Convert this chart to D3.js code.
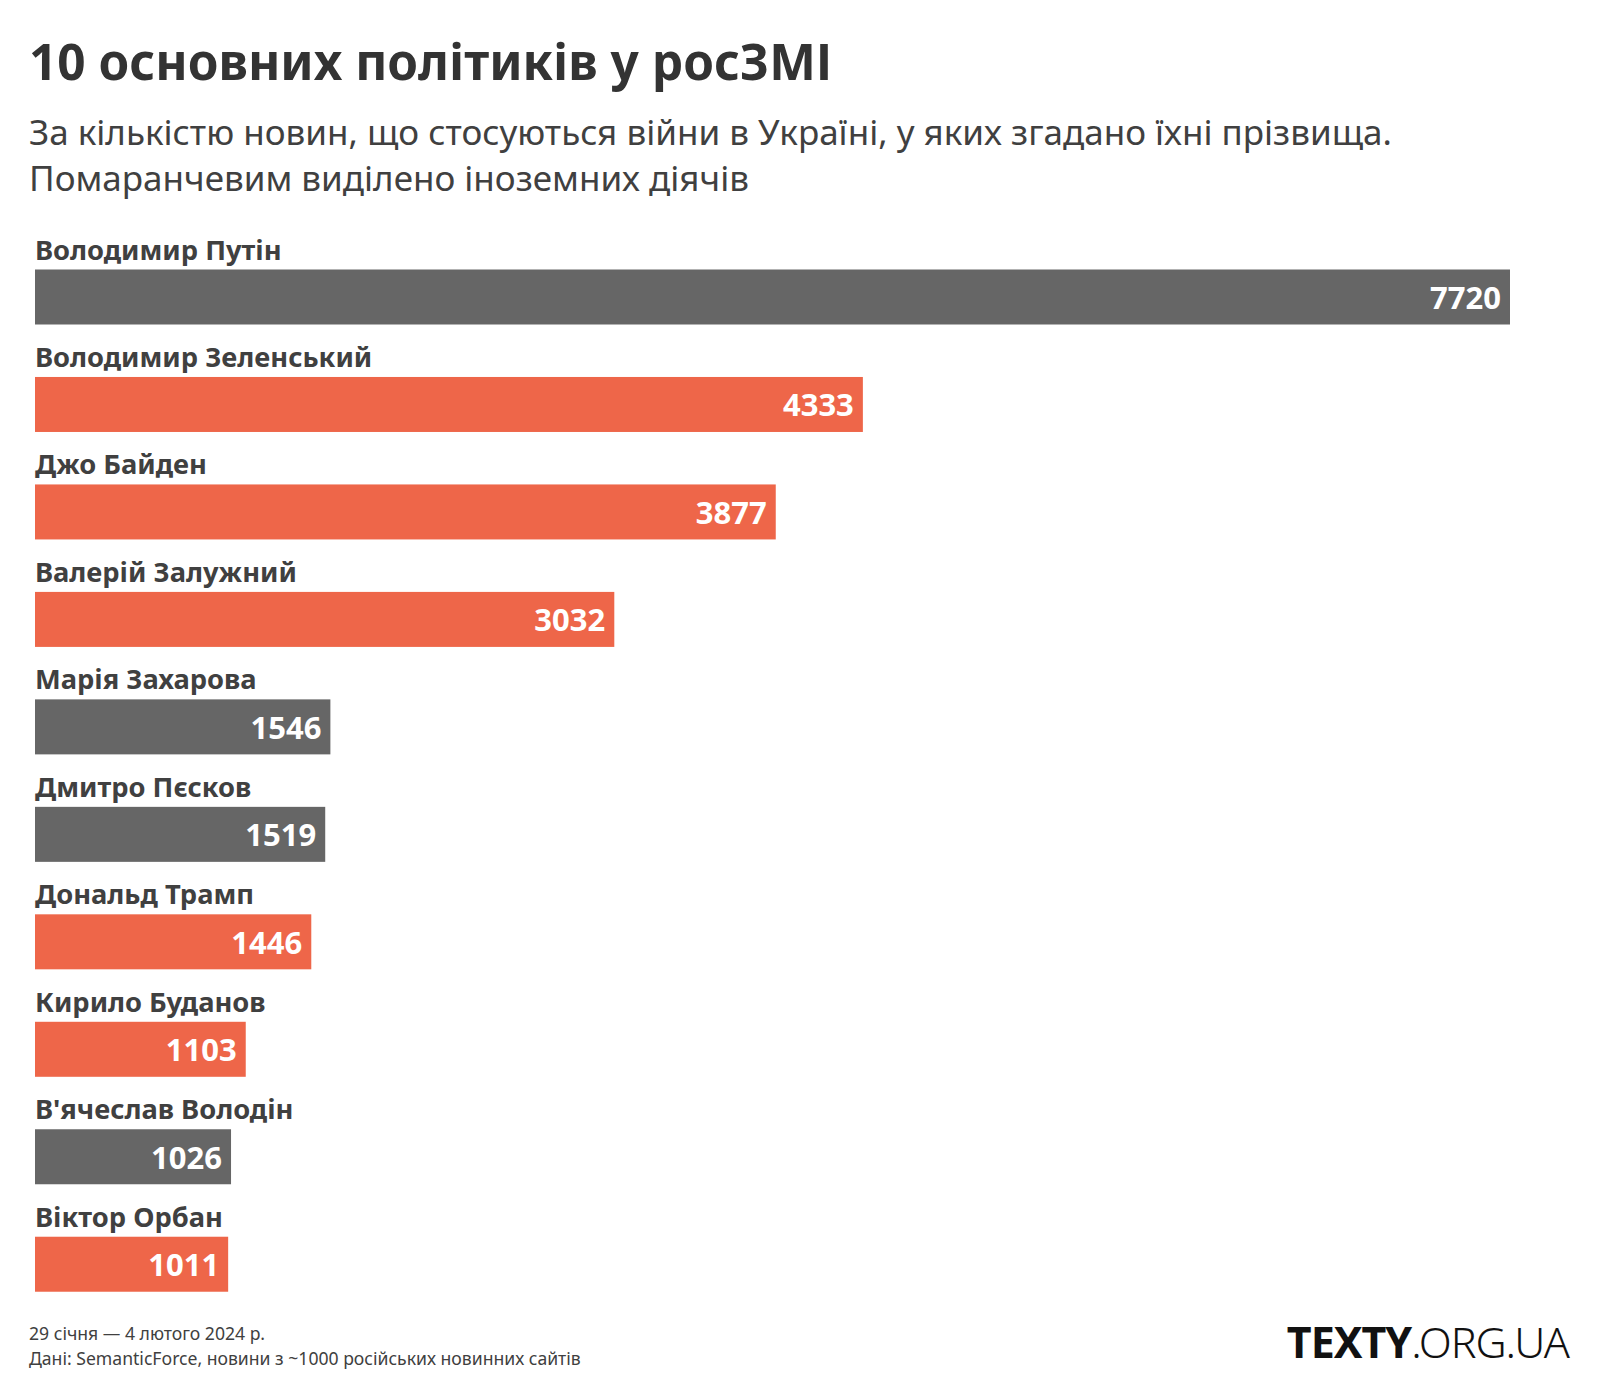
<!DOCTYPE html>
<html><head><meta charset="utf-8">
<script src="https://cdn.jsdelivr.net/npm/d3@7"></script>
<style>
body{margin:0;background:#fff;}
svg{display:block;font-family:"Noto Sans",sans-serif;}
</style></head>
<body>
<svg id="chart" width="1600" height="1400"></svg>
<script>
const names = ["Володимир Путін","Володимир Зеленський","Джо Байден","Валерій Залужний","Марія Захарова","Дмитро Пєсков","Дональд Трамп","Кирило Буданов","В'ячеслав Володін","Віктор Орбан"];
const values = [7720,4333,3877,3032,1546,1519,1446,1103,1026,1011];
const foreign = [false,true,true,true,false,false,true,true,false,true];

const title = "10 основних політиків у росЗМІ";
const subtitleLines = ["За кількістю новин, що стосуються війни в Україні, у яких згадано їхні прізвища.","Помаранчевим виділено іноземних діячів"];
const footerLines = ["29 січня — 4 лютого 2024 р.","Дані: SemanticForce, новини з ~1000 російських новинних сайтів"];

const svg = d3.select("#chart");
const x = d3.scaleLinear().domain([0,7720]).range([35,1510]);
const y = d3.scaleBand().domain(names).range([269.5,269.5+107.47*10]).paddingInner(0).paddingOuter(0);
const barH = 55;

svg.append("text").attr("x",29).attr("y",80).attr("fill","#333").attr("font-size",49.5).attr("font-weight",700).text(title);
svg.selectAll("text.sub").data(subtitleLines).join("text").attr("class","sub")
  .attr("x",29).attr("y",(d,i)=>145+i*46).attr("fill","#404040").attr("font-size",35).text(d=>d);

const g = svg.append("g");
const rows = g.selectAll("g.row").data(names).join("g").attr("class","row")
  .attr("transform",d=>`translate(0,${y(d)})`);
rows.append("text").attr("x",35).attr("y",-10).attr("fill","#404040").attr("font-size",27.3).attr("font-weight",700).text(d=>d);
rows.append("rect").attr("x",x(0)).attr("y",0).attr("height",barH)
  .attr("width",(d,i)=>x(values[i])-x(0)).attr("fill",(d,i)=>foreign[i]?"#ee6649":"#666666");
rows.append("text").attr("x",(d,i)=>x(values[i])-9).attr("y",barH/2+12).attr("text-anchor","end")
  .attr("fill","#fff").attr("font-size",31).attr("font-weight",700).text((d,i)=>values[i]);

svg.selectAll("text.foot").data(footerLines).join("text").attr("class","foot")
  .attr("x",29).attr("y",(d,i)=>1340+i*25).attr("fill","#404040").attr("font-size",17.6).text(d=>d);

const logo = svg.append("text").attr("x",1569).attr("y",1358).attr("text-anchor","end").attr("fill","#111").attr("font-size",43).attr("letter-spacing",-1);
logo.append("tspan").attr("font-weight",700).text("TEXTY");
logo.append("tspan").attr("font-weight",300).text(".ORG.UA");
</script>
</body></html>
